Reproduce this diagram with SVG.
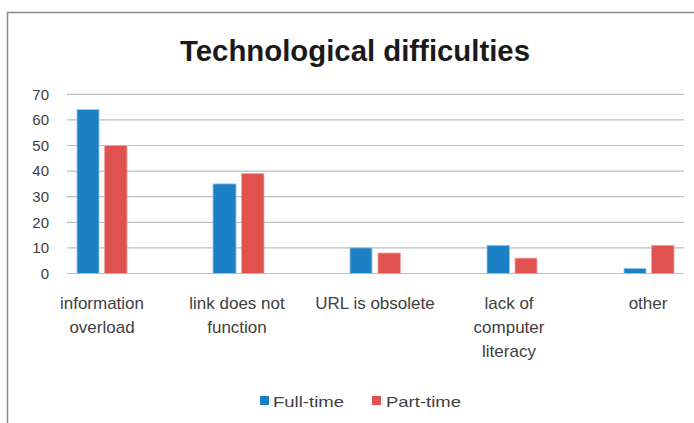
<svg xmlns="http://www.w3.org/2000/svg" width="694" height="423" viewBox="0 0 694 423">
<style>
.grid{stroke:#BDBDBD;stroke-width:1.2}
.ft{fill:#1B80C4;stroke:#9CC8E8;stroke-width:0.8}
.pt{fill:#E0524F;stroke:#F2A6A4;stroke-width:0.8}
.ax{font-family:"Liberation Sans",Arial,sans-serif;font-size:15px;fill:#404040}
.cat{font-family:"Liberation Sans",Arial,sans-serif;font-size:17px;fill:#404040;text-anchor:middle}
.ttl{font-family:"Liberation Sans",Arial,sans-serif;font-size:29px;font-weight:bold;fill:#1a1a1a;text-anchor:middle}
</style>
<rect x="0" y="0" width="694" height="423" fill="#fff"/>
<rect x="7.5" y="12.5" width="700" height="430" fill="#fff" stroke="#8a8a8a" stroke-width="1.5"/>
<text class="ttl" x="355" y="61" textLength="350" lengthAdjust="spacingAndGlyphs">Technological difficulties</text>
<g id="gridlines">
<line class="grid" x1="67" y1="94.3" x2="684" y2="94.3"/>
<line class="grid" x1="67" y1="119.9" x2="684" y2="119.9"/>
<line class="grid" x1="67" y1="145.5" x2="684" y2="145.5"/>
<line class="grid" x1="67" y1="171.1" x2="684" y2="171.1"/>
<line class="grid" x1="67" y1="196.7" x2="684" y2="196.7"/>
<line class="grid" x1="67" y1="222.3" x2="684" y2="222.3"/>
<line class="grid" x1="67" y1="247.9" x2="684" y2="247.9"/>
<line class="grid" x1="67" y1="273.5" x2="684" y2="273.5"/>
</g>
<g id="y-axis" text-anchor="end">
<text class="ax" x="49" y="99.5">70</text>
<text class="ax" x="49" y="125.1">60</text>
<text class="ax" x="49" y="150.7">50</text>
<text class="ax" x="49" y="176.3">40</text>
<text class="ax" x="49" y="201.9">30</text>
<text class="ax" x="49" y="227.5">20</text>
<text class="ax" x="49" y="253.1">10</text>
<text class="ax" x="49" y="278.7">0</text>
</g>
<g id="bars">
<rect class="ft" x="77" y="109.6" width="22" height="163.9"/>
<rect class="pt" x="104.5" y="145.5" width="22.5" height="128"/>
<rect class="ft" x="213" y="183.9" width="23" height="89.6"/>
<rect class="pt" x="241.5" y="173.6" width="22.5" height="99.9"/>
<rect class="ft" x="350" y="247.9" width="22" height="25.6"/>
<rect class="pt" x="378" y="253" width="22.5" height="20.5"/>
<rect class="ft" x="487" y="245.3" width="22.5" height="28.2"/>
<rect class="pt" x="515" y="258.1" width="22" height="15.4"/>
<rect class="ft" x="624" y="268.4" width="22" height="5.1"/>
<rect class="pt" x="651.5" y="245.3" width="22.5" height="28.2"/>
</g>
<g id="categories">
<text class="cat" x="102" y="309">information</text>
<text class="cat" x="102" y="333">overload</text>
<text class="cat" x="237" y="309">link does not</text>
<text class="cat" x="237" y="333">function</text>
<text class="cat" x="375" y="309">URL is obsolete</text>
<text class="cat" x="509" y="309">lack of</text>
<text class="cat" x="509" y="333">computer</text>
<text class="cat" x="509" y="357">literacy</text>
<text class="cat" x="648" y="309">other</text>
</g>
<g id="legend">
<rect x="260" y="396" width="9" height="9" fill="#1B80C4"/>
<text class="ax" x="273" y="407" font-size="16.5" textLength="71" lengthAdjust="spacingAndGlyphs">Full-time</text>
<rect x="372" y="396" width="9" height="9" fill="#E0524F"/>
<text class="ax" x="386" y="407" font-size="16.5" textLength="75" lengthAdjust="spacingAndGlyphs">Part-time</text>
</g>
</svg>
